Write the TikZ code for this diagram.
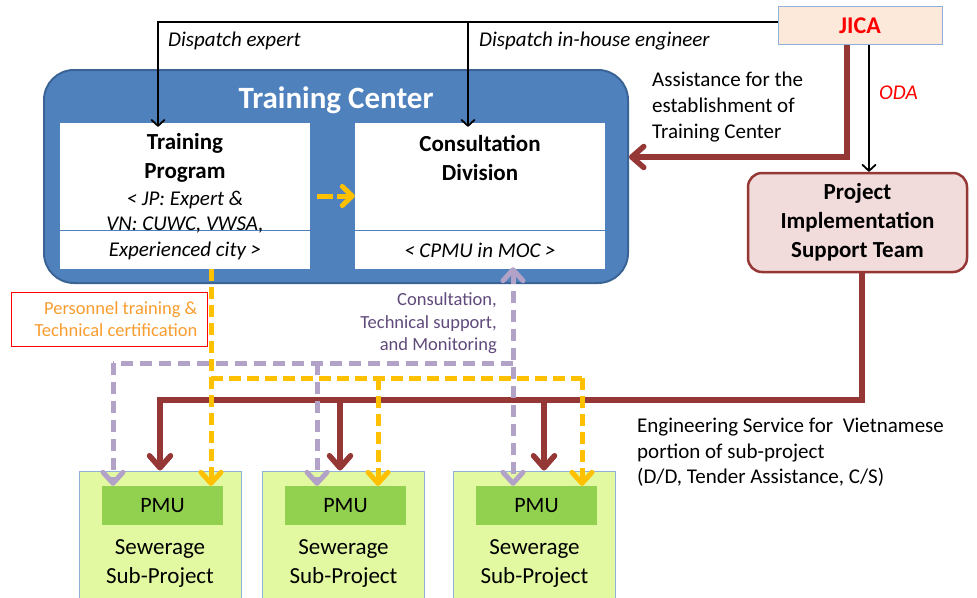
\documentclass[tikz,border=0pt]{standalone}
\usepackage{fontspec}
\setmainfont{Carlito}
\usetikzlibrary{arrows.meta}
\definecolor{tcblue}{HTML}{4F81BD}
\definecolor{tcborder}{HTML}{3A6496}
\definecolor{brn}{HTML}{953735}
\definecolor{pistfill}{HTML}{F2DCDB}
\definecolor{orng}{HTML}{FFC000}
\definecolor{lav}{HTML}{B3A2C7}
\definecolor{spfill}{HTML}{E2F9A2}
\definecolor{pmufill}{HTML}{92D050}
\definecolor{boxline}{HTML}{8EB0DA}
\definecolor{jicafill}{HTML}{FDE9D9}
\definecolor{pertext}{HTML}{F99D30}
\definecolor{purtext}{HTML}{604A7B}
\tikzset{
  fs/.style 2 args={font=\fontsize{#1}{#2}\selectfont},
  whitebox/.style={fill=white, draw=none, minimum width=250pt, minimum height=146pt, inner sep=0},
  spbox/.style={fill=spfill, draw=boxline, line width=1pt, minimum width=162pt, minimum height=131pt, inner sep=0},
  pmubox/.style={fill=pmufill, draw=none, minimum width=121pt, minimum height=39pt, inner sep=0, fs={22}{26}},
  bt/.style={inner sep=0, align=center, font=\bfseries\fontsize{23}{29}\selectfont},
  it/.style={inner sep=0, align=center, font=\itshape\fontsize{21}{25}\selectfont},
  blk/.style={draw=black, line width=1.8pt, -{Straight Barb[length=6pt,width=13pt,round]}},
  brnline/.style={draw=brn, line width=5.5pt},
  brnarrow/.style={brnline, -{Straight Barb[length=12pt,width=21pt,round]}},
  orgline/.style={draw=orng, line width=5pt, dash pattern=on 12pt off 6pt},
  orgarrow/.style={orgline, -{Straight Barb[length=11pt,width=20pt,round]}},
  lavline/.style={draw=lav, line width=5pt, dash pattern=on 12pt off 7pt},
  lavarrow/.style={lavline, -{Straight Barb[length=11pt,width=20pt,round]}},
}
\begin{document}
\begin{tikzpicture}[x=1pt,y=-1pt]
\clip (0,0) rectangle (977,597);
\fill[white] (0,0) rectangle (977,597);

% Training Center frame
\node[fill=tcblue, draw=tcborder, line width=2pt, rounded corners=30pt, minimum width=584pt, minimum height=213pt, inner sep=0] (tc) at (336,176.5) {};
\node[inner sep=0, text=white, font=\bfseries\fontsize{31}{37}\selectfont] (tctitle) at (336,100) {Training Center};

\node[whitebox] (tp) at (185,196) {};
\node[whitebox] (cd) at (480,196) {};
\draw[tcblue, line width=1pt] (tp.west |- 0,230) -- (tp.east |- 0,230);
\draw[tcblue, line width=1pt] (cd.west |- 0,230) -- (cd.east |- 0,230);

\node[bt] (tptitle) at (185,158) {Training\\Program};
\node[it] (tpsub) at (185,212) {< JP: Expert \&\\VN: CUWC, VWSA,};
\node[it] (tpexp) at (185,250.5) {Experienced city >};
\node[bt] (cdtitle) at (480,158) {Consultation\\Division};
\node[it] (cdsub) at (480,250.5) {< CPMU in MOC >};

% small orange arrow
\draw[draw=orng, line width=5pt, dash pattern=on 16pt off 4pt, -{Straight Barb[length=10pt,width=19pt,round]}] (tp.east |- 0,196) ++(7,0) coordinate (oa) -- (cd.west |- 0,196);

% JICA
\node[fill=jicafill, draw=boxline, line width=1pt, minimum width=164pt, minimum height=38pt, inner sep=0, text=red, font=\bfseries\fontsize{24}{28}\selectfont] (jica) at (860,25.5) {JICA};

% PIST
\node[fill=pistfill, draw=brn, line width=2.5pt, rounded corners=14pt, minimum width=219pt, minimum height=99pt, inner sep=0, align=center, font=\bfseries\fontsize{23}{29}\selectfont] (pist) at (857.5,222.5) {Project\\Implementation\\Support Team};

% Sub-projects
\node[spbox] (sp1) at (160,536.5) {};
\node[spbox] (sp2) at (343.5,536.5) {};
\node[spbox] (sp3) at (534.5,536.5) {};
\node[pmubox] (pmu1) at (162.5,505.5) {PMU};
\node[pmubox] (pmu2) at (345.5,505.5) {PMU};
\node[pmubox] (pmu3) at (536.5,505.5) {PMU};
\node[inner sep=0, align=center, fs={23}{29}] (sw1) at (160,564) {Sewerage\\Sub-Project};
\node[inner sep=0, align=center, fs={23}{29}] (sw2) at (343.5,564) {Sewerage\\Sub-Project};
\node[inner sep=0, align=center, fs={23}{29}] (sw3) at (534.5,564) {Sewerage\\Sub-Project};

% Dispatch lines
\draw[blk] (jica.west |- 0,22) -| ([xshift=-27pt,yshift=-4pt]tp.north);
\draw[blk] ([xshift=-12pt]cd.north |- 0,22) -- ([xshift=-12pt,yshift=-4pt]cd.north);
\node[anchor=west, inner sep=0, font=\itshape\fontsize{21}{25}\selectfont] (dexp) at (168,41) {Dispatch expert};
\node[anchor=west, inner sep=0, font=\itshape\fontsize{21}{25}\selectfont] (deng) at (479,41) {Dispatch in-house engineer};

% Assistance (brown)
\draw[brnarrow] ([xshift=-13pt]jica.south) |- (tc.east |- 0,157);
\node[anchor=west, inner sep=0, align=left, fs={21}{26}] (assist) at (652,107) {Assistance for the\\establishment of\\Training Center};

% ODA
\draw[blk] ([xshift=9pt]jica.south) -- ([xshift=9pt]jica.south |- pist.north);
\node[anchor=west, inner sep=0, text=red, font=\itshape\fontsize{21}{25}\selectfont] (oda) at (879,93) {ODA};

% Engineering service (brown)
\draw[brnarrow] ([xshift=4.5pt]pist.south) |- (sp1.north |- 0,400) -- (sp1.north);
\draw[brnarrow] ([xshift=-3.5pt]sp2.north |- 0,400) -- ([xshift=-3.5pt]sp2.north);
\draw[brnarrow] ([xshift=9.5pt]sp3.north |- 0,400) -- ([xshift=9.5pt]sp3.north);
\node[anchor=west, inner sep=0, align=left, fs={21}{25.5}] (eng) at (637,452.5) {Engineering Service for\ \ Vietnamese\\portion of sub-project\\(D/D, Tender Assistance, C/S)};

% Orange dashed (training)
\draw[orgarrow] ([xshift=26pt]tp.south) -- ([xshift=26pt]tp.south |- pmu1.north);
\draw[orgline] ([xshift=26pt]tp.south |- 0,378) -- ([xshift=45.5pt]pmu3.north |- 0,378);
\draw[orgarrow] ([xshift=32.5pt]pmu2.north |- 0,378) -- ([xshift=32.5pt]pmu2.north);
\draw[orgarrow] ([xshift=45.5pt]pmu3.north |- 0,378) -- ([xshift=45.5pt]pmu3.north);

% Lavender dashed (consultation)
\draw[lavline, {Straight Barb[length=11pt,width=20pt,round]}-{Straight Barb[length=11pt,width=20pt,round]}] ([xshift=33pt,yshift=2pt]cd.south) -- ([xshift=33pt]cd.south |- pmu3.north);
\draw[lavline] ([xshift=33pt]cd.south |- 0,363) -- ([xshift=-49.5pt]pmu1.north |- 0,363);
\draw[lavarrow] ([xshift=-49.5pt]pmu1.north |- 0,363) -- ([xshift=-49.5pt]pmu1.north);
\draw[lavarrow] ([xshift=-28.5pt]pmu2.north |- 0,363) -- ([xshift=-28.5pt]pmu2.north);

% Labels
\node[draw=red, line width=1pt, fill=white, minimum width=196pt, minimum height=54pt, inner sep=0] (pers) at (109,319) {};
\node[anchor=east, inner sep=0, align=right, text=pertext, fs={18.5}{22}] (perstext) at ([xshift=-10pt]pers.east) {Personnel training \&\\Technical certification};
\node[anchor=east, inner sep=0, align=right, text=purtext, fs={18.5}{22.5}] (cons) at (497,323.5) {Consultation,\\Technical support,\\and Monitoring};
\end{tikzpicture}
\end{document}
